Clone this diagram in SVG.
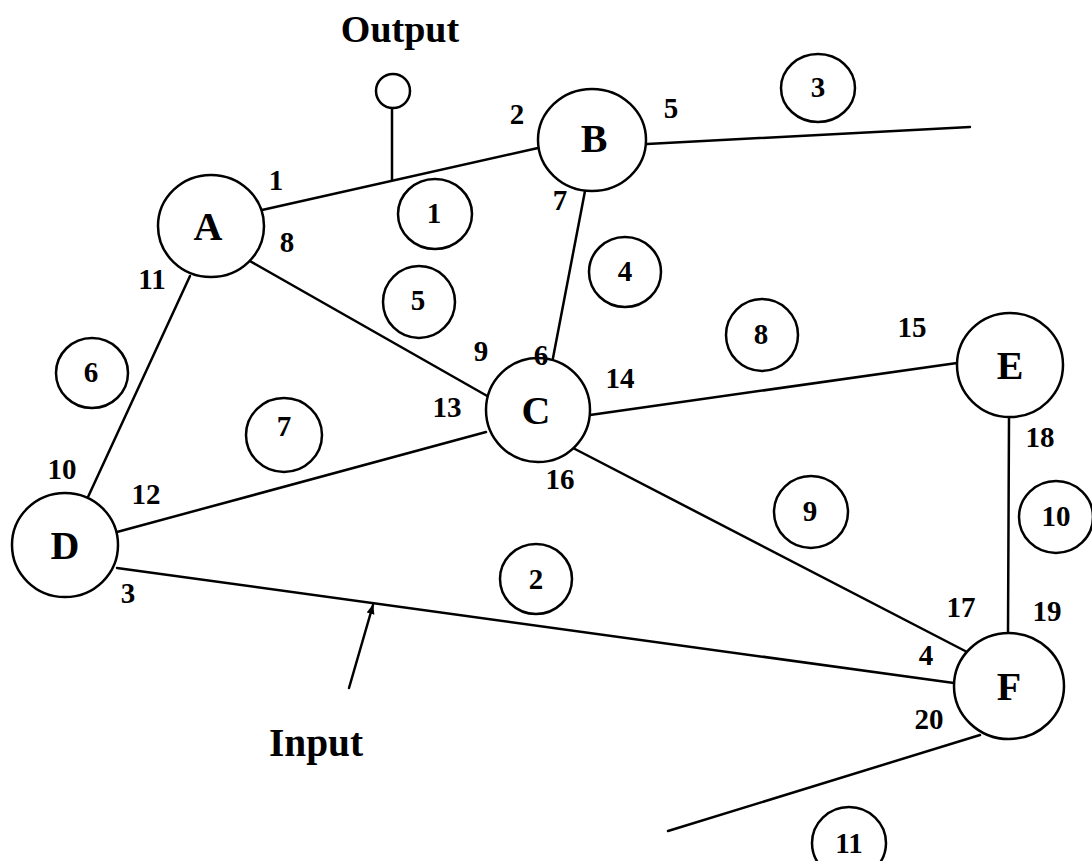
<svg xmlns="http://www.w3.org/2000/svg" width="1092" height="861" viewBox="0 0 1092 861">
<defs>
<style>
.n{fill:#fff;stroke:#000;stroke-width:2.5}
.r{fill:none;stroke:#000;stroke-width:2.5}
.e{stroke:#000;stroke-width:2.5;fill:none;stroke-linecap:round}
.t{font-family:"Liberation Serif","Times New Roman",serif;font-weight:bold;text-anchor:middle;dominant-baseline:central}
.nl{font-size:40px}
.rl{font-size:29px}
.el{font-size:29px}
</style>
<marker id="ah" viewBox="0 0 10 10" refX="9" refY="5" markerWidth="4" markerHeight="4" orient="auto"><path d="M0,1 L10,5 L0,9 z" fill="#000"/></marker>
</defs>
<rect width="1092" height="861" fill="#fff"/>
<g id="connectors">
<line class="e" x1="262" y1="210" x2="538" y2="148"/>
<line class="e" x1="392" y1="108" x2="392" y2="180"/>
<line class="e" x1="647" y1="144" x2="970" y2="127"/>
<line class="e" x1="585" y1="191" x2="553" y2="358"/>
<line class="e" x1="248" y1="260" x2="489" y2="397"/>
<line class="e" x1="190" y1="276" x2="88" y2="497"/>
<line class="e" x1="117" y1="532" x2="486" y2="432"/>
<line class="e" x1="590" y1="415" x2="957" y2="363"/>
<line class="e" x1="573" y1="448" x2="969" y2="653"/>
<line class="e" x1="1009" y1="418" x2="1008" y2="633"/>
<line class="e" x1="117" y1="568" x2="954" y2="683"/>
<line class="e" x1="980" y1="735" x2="668" y2="831"/>
<line class="e" x1="349" y1="688" x2="373" y2="605" marker-end="url(#ah)"/>
</g>
<g id="output"><text class="t" x="400" y="29" font-size="38">Output</text><circle class="n" cx="393" cy="91" r="17"/></g>
<g id="input"><text class="t" x="316" y="742" font-size="40" textLength="94" lengthAdjust="spacingAndGlyphs">Input</text></g>
<g id="nodeA"><ellipse class="n" cx="211" cy="226" rx="53" ry="51"/><text class="t nl" x="208" y="226">A</text></g>
<g id="nodeB"><ellipse class="n" cx="592" cy="140" rx="54" ry="51"/><text class="t nl" x="594" y="138">B</text></g>
<g id="nodeC"><ellipse class="n" cx="538" cy="410" rx="52" ry="52"/><text class="t nl" x="536" y="410">C</text></g>
<g id="nodeD"><ellipse class="n" cx="65" cy="545" rx="53" ry="52"/><text class="t nl" x="65" y="545">D</text></g>
<g id="nodeE"><ellipse class="n" cx="1010" cy="365" rx="53" ry="52"/><text class="t nl" x="1010" y="365">E</text></g>
<g id="nodeF"><ellipse class="n" cx="1009" cy="686" rx="55" ry="53"/><text class="t nl" x="1009" y="686">F</text></g>
<g id="regions">
<g id="r1"><ellipse class="r" cx="435" cy="214" rx="37" ry="35"/><text class="t rl" x="434" y="213">1</text></g>
<g id="r2"><ellipse class="r" cx="536" cy="579" rx="36" ry="35"/><text class="t rl" x="536" y="579">2</text></g>
<g id="r3"><ellipse class="r" cx="818" cy="88" rx="37" ry="34"/><text class="t rl" x="818" y="87">3</text></g>
<g id="r4"><ellipse class="r" cx="625" cy="272" rx="36" ry="35"/><text class="t rl" x="625" y="271">4</text></g>
<g id="r5"><ellipse class="r" cx="419" cy="302" rx="36" ry="36"/><text class="t rl" x="418" y="300">5</text></g>
<g id="r6"><ellipse class="r" cx="92" cy="373" rx="36" ry="35"/><text class="t rl" x="91" y="372">6</text></g>
<g id="r7"><ellipse class="r" cx="284" cy="435" rx="38" ry="37"/><text class="t rl" x="284" y="426">7</text></g>
<g id="r8"><ellipse class="r" cx="762" cy="335" rx="36" ry="36"/><text class="t rl" x="761" y="334">8</text></g>
<g id="r9"><ellipse class="r" cx="811" cy="512" rx="37" ry="36"/><text class="t rl" x="810" y="511">9</text></g>
<g id="r10"><ellipse class="r" cx="1056" cy="517" rx="37" ry="36"/><text class="t rl" x="1056" y="516">10</text></g>
<g id="r11"><ellipse class="r" cx="849" cy="843" rx="37" ry="36"/><text class="t rl" x="849" y="843">11</text></g>
</g>
<g id="edge-labels">
<text class="t el" x="276" y="180">1</text>
<text class="t el" x="517" y="114">2</text>
<text class="t el" x="128" y="593">3</text>
<text class="t el" x="926" y="655">4</text>
<text class="t el" x="671" y="108">5</text>
<text class="t el" x="541" y="355">6</text>
<text class="t el" x="560" y="200">7</text>
<text class="t el" x="287" y="242">8</text>
<text class="t el" x="481" y="351">9</text>
<text class="t el" x="62" y="469">10</text>
<text class="t el" x="152" y="279">11</text>
<text class="t el" x="146" y="494">12</text>
<text class="t el" x="447" y="407">13</text>
<text class="t el" x="620" y="378">14</text>
<text class="t el" x="912" y="327">15</text>
<text class="t el" x="560" y="479">16</text>
<text class="t el" x="961" y="607">17</text>
<text class="t el" x="1040" y="437">18</text>
<text class="t el" x="1047" y="611">19</text>
<text class="t el" x="929" y="719">20</text>
</g>
</svg>
